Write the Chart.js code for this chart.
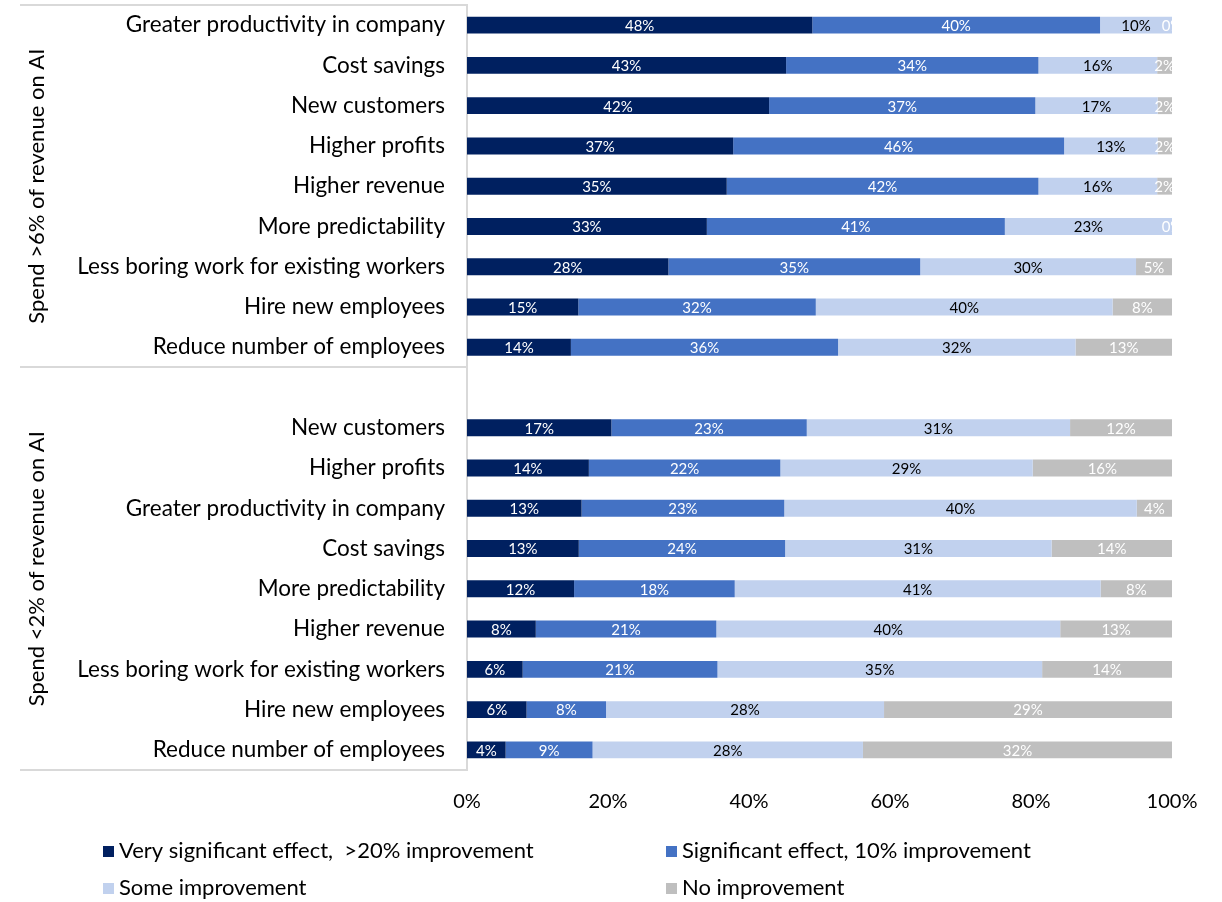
<!DOCTYPE html>
<html>
<head>
<meta charset="utf-8">
<script src="https://cdn.jsdelivr.net/npm/chart.js@4/dist/chart.umd.min.js"></script>
<style>
  html, body { margin: 0; padding: 0; background: #fff; }
  #wrap { width: 1222px; height: 902px; position: relative; }
</style>
</head>
<body>
<div id="wrap"><canvas id="c" width="1222" height="902"></canvas></div>
<script>
const categories = [
  'Greater productivity in company', 'Cost savings', 'New customers', 'Higher profits',
  'Higher revenue', 'More predictability', 'Less boring work for existing workers',
  'Hire new employees', 'Reduce number of employees',
  '',
  'New customers', 'Higher profits', 'Greater productivity in company', 'Cost savings',
  'More predictability', 'Higher revenue', 'Less boring work for existing workers',
  'Hire new employees', 'Reduce number of employees'
];
const groupLabels = ['Spend >6% of revenue on AI', 'Spend <2% of revenue on AI'];
const seriesNames = ['Very significant effect,  >20% improvement', 'Significant effect, 10% improvement', 'Some improvement', 'No improvement'];
const verySignificant = [48, 43, 42, 37, 35, 33, 28, 15, 14, null, 17, 14, 13, 13, 12, 8, 6, 6, 4];
const significant     = [40, 34, 37, 46, 42, 41, 35, 32, 36, null, 23, 22, 23, 24, 18, 21, 21, 8, 9];
const someImprovement = [10, 16, 17, 13, 16, 23, 30, 40, 32, null, 31, 29, 40, 31, 41, 40, 35, 28, 28];
const noImprovement   = [0, 2, 2, 2, 2, 0, 5, 8, 13, null, 12, 16, 4, 14, 8, 13, 14, 29, 32];
const xTicks = [0, 20, 40, 60, 80, 100];

const seriesColors = ['#002060', '#4472C4', '#C1D1EE', '#BFBFBF'];
const labelColors = ['#ffffff', '#ffffff', '#000000', '#ffffff'];
const FONT = 'Lato, "Open Sans", sans-serif';

const raw = [verySignificant, significant, someImprovement, noImprovement];
const totals = categories.map((_, i) => raw.reduce((s, arr) => s + (arr[i] || 0), 0));
const shares = raw.map(arr => arr.map((v, i) => v === null ? null : v / totals[i] * 100));

const datasets = raw.map((arr, k) => ({
  label: seriesNames[k],
  data: shares[k],
  rawValues: arr,
  backgroundColor: seriesColors[k],
  borderWidth: 0,
  barPercentage: 0.84,
  categoryPercentage: 0.5
}));

const decorPlugin = {
  id: 'decor',
  afterDatasetsDraw(chart) {
    const ctx = chart.ctx, ca = chart.chartArea;
    ctx.save();
    ctx.beginPath();
    ctx.rect(ca.left, ca.top, ca.right - ca.left, ca.bottom - ca.top);
    ctx.clip();
    ctx.font = '15px ' + FONT;
    ctx.textAlign = 'center';
    ctx.textBaseline = 'middle';
    chart.data.datasets.forEach((ds, k) => {
      const meta = chart.getDatasetMeta(k);
      meta.data.forEach((el, i) => {
        const v = ds.rawValues[i];
        if (v === null || v === undefined) return;
        const p = el.getCenterPoint();
        ctx.fillStyle = labelColors[k];
        ctx.fillText(v + '%', p.x, p.y + 1);
      });
    });
    ctx.restore();
  },
  afterDraw(chart) {
    const ctx = chart.ctx, ca = chart.chartArea;
    const y = chart.scales.y;
    const mid = (y.getPixelForValue(8) + y.getPixelForValue(9)) / 2;
    const seps = [ca.top, mid, ca.bottom];
    ctx.save();
    ctx.strokeStyle = '#d9d9d9';
    ctx.lineWidth = 2;
    seps.forEach(sy => {
      ctx.beginPath();
      ctx.moveTo(20, Math.round(sy));
      ctx.lineTo(ca.left, Math.round(sy));
      ctx.stroke();
    });
    ctx.fillStyle = '#000';
    ctx.font = '22px ' + FONT;
    ctx.textAlign = 'center';
    ctx.textBaseline = 'middle';
    const centers = [(seps[0] + seps[1]) / 2, (seps[1] + seps[2]) / 2];
    centers.forEach((cy, g) => {
      ctx.save();
      ctx.translate(37, cy);
      ctx.rotate(-Math.PI / 2);
      ctx.fillText(groupLabels[g], 0, 0);
      ctx.restore();
    });
    const cols = [103, 666], rows = [851, 888];
    ctx.font = '22px ' + FONT;
    ctx.textAlign = 'left';
    ctx.textBaseline = 'middle';
    seriesNames.forEach((name, k) => {
      const lx = cols[k % 2], ly = rows[Math.floor(k / 2)];
      ctx.fillStyle = seriesColors[k];
      ctx.fillRect(lx, ly - 5, 11, 11);
      ctx.fillStyle = '#000';
      ctx.fillText(name, lx + 16, ly);
    });
    ctx.restore();
  }
};

new Chart(document.getElementById('c'), {
  type: 'bar',
  data: { labels: categories, datasets },
  options: {
    indexAxis: 'y',
    responsive: false,
    animation: false,
    layout: { padding: { top: 5, right: 50, bottom: 0, left: 0 } },
    plugins: { legend: { display: false }, tooltip: { enabled: false } },
    scales: {
      x: {
        stacked: true,
        min: 0, max: 100,
        afterBuildTicks(scale) { scale.ticks = xTicks.map(v => ({ value: v })); },
        ticks: { callback: v => v + '%', font: { family: FONT, size: 20 }, color: '#000', padding: 20, maxRotation: 0 },
        grid: { display: false, drawTicks: false },
        border: { display: false },
        afterFit(scale) { scale.height = 132; }
      },
      y: {
        stacked: true,
        ticks: { font: { family: FONT, size: 22.5 }, color: '#000', padding: 22, autoSkip: false },
        grid: { display: false, drawTicks: false },
        border: { display: true, color: '#d9d9d9', width: 2 },
        afterFit(scale) { scale.width = 467; scale.paddingTop = 0; scale.paddingBottom = 0; }
      }
    }
  },
  plugins: [decorPlugin]
});
</script>
</body>
</html>
